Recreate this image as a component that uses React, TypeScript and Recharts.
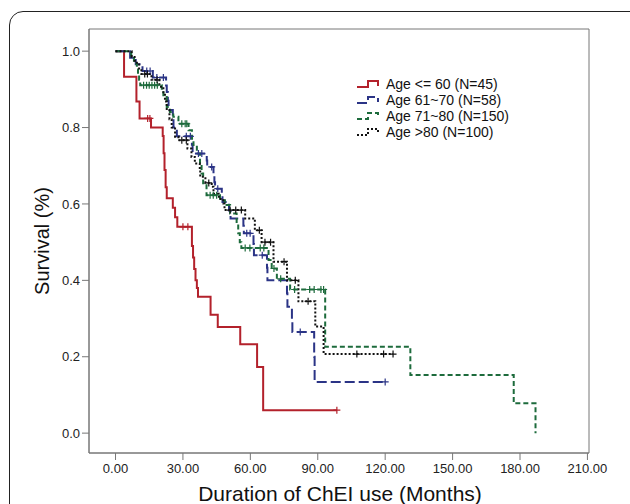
import React from 'react';
import { LineChart, Line, XAxis, YAxis, Legend, ReferenceArea } from 'recharts';

const xTicks = [0, 30, 60, 90, 120, 150, 180, 210];
const yTicks = [0, 0.2, 0.4, 0.6, 0.8, 1.0];
const xDomain = [-11.8, 210.7];
const yDomain = [-0.052, 1.058];

// Kaplan-Meier steps: time (months) of each drop, survival after it, censored times
const redTimes = [3.8, 9.3, 10.7, 15.8, 21.0, 21.4, 21.8, 22.3, 22.8, 25.5, 26.5, 27.5, 34.0, 34.5, 35.0, 35.6, 36.2, 36.7, 42.3, 45.5, 55.5, 63.0, 65.7];
const redSurv = [0.933, 0.868, 0.824, 0.8, 0.778, 0.733, 0.689, 0.644, 0.615, 0.59, 0.565, 0.54, 0.49, 0.46, 0.43, 0.4, 0.38, 0.357, 0.31, 0.278, 0.233, 0.173, 0.06];
const redCensor = [14.3, 15.3, 30.0, 32.2, 98.5];

const blueTimes = [6.5, 9.0, 12.0, 16.6, 22.5, 22.8, 23.3, 23.6, 25.5, 25.8, 27.3, 34.0, 34.3, 40.6, 40.8, 43.6, 44.0, 44.3, 47.3, 47.6, 50.5, 51.2, 56.9, 57.1, 61.4, 61.6, 67.4, 67.6, 76.3, 76.5, 78.5, 78.7, 88.4, 88.6];
const blueSurv = [0.983, 0.966, 0.948, 0.931, 0.91, 0.893, 0.87, 0.846, 0.823, 0.8, 0.777, 0.755, 0.732, 0.714, 0.697, 0.675, 0.657, 0.64, 0.622, 0.605, 0.583, 0.562, 0.543, 0.523, 0.495, 0.466, 0.433, 0.4, 0.366, 0.331, 0.298, 0.265, 0.2, 0.134];
const blueCensor = [13.9, 15.4, 18.4, 21.3, 31.5, 33.3, 36.9, 38.4, 42.8, 45.5, 58.4, 59.9, 65.3, 82.2, 120.0];

const greenTimes = [7.0, 8.2, 9.5, 10.0, 10.5, 11.0, 20.6, 21.3, 22.8, 24.2, 25.7, 28.0, 32.5, 34.0, 34.7, 36.2, 37.6, 38.3, 39.0, 40.5, 46.5, 48.7, 51.0, 53.9, 54.6, 55.3, 56.0, 68.1, 69.5, 71.8, 77.7, 93.3, 131.2, 177.2, 186.9];
const greenSurv = [0.985, 0.968, 0.952, 0.94, 0.925, 0.911, 0.898, 0.88, 0.854, 0.841, 0.828, 0.81, 0.793, 0.771, 0.754, 0.732, 0.702, 0.68, 0.654, 0.623, 0.61, 0.597, 0.575, 0.549, 0.523, 0.5, 0.485, 0.453, 0.431, 0.404, 0.376, 0.226, 0.152, 0.078, 0.0];
const greenCensor = [12.5, 13.8, 15.0, 16.2, 17.4, 18.6, 29.5, 31.0, 31.7, 42.1, 43.5, 45.0, 57.7, 59.8, 64.4, 66.0, 70.5, 73.5, 79.7, 86.4, 88.4, 91.4, 92.6];

const blackTimes = [7.2, 8.5, 9.5, 10.5, 11.5, 16.0, 19.5, 21.3, 22.0, 22.8, 24.0, 25.0, 26.5, 28.0, 32.0, 33.8, 35.3, 37.5, 37.7, 40.0, 42.8, 43.6, 46.0, 48.0, 48.5, 57.7, 62.0, 65.0, 70.3, 76.3, 81.4, 88.9, 92.6];
const blackSurv = [0.985, 0.975, 0.965, 0.95, 0.94, 0.925, 0.907, 0.889, 0.868, 0.846, 0.822, 0.8, 0.776, 0.767, 0.745, 0.723, 0.706, 0.688, 0.671, 0.655, 0.645, 0.627, 0.613, 0.601, 0.584, 0.562, 0.531, 0.5, 0.449, 0.4, 0.345, 0.279, 0.207];
const blackCensor = [13.0, 14.2, 18.5, 29.5, 31.5, 41.5, 51.0, 53.5, 56.0, 64.0, 66.5, 69.0, 75.0, 80.0, 85.7, 107.4, 119.3, 123.5];

const buildCurve = (times: number[], surv: number[], censor: number[]) => {
  const pts = [{ t: 0, s: 1, c: 0 }];
  times.forEach((t, i) => pts.push({ t, s: surv[i], c: 0 }));
  censor.forEach((t) => {
    let s = 1;
    times.forEach((tt, i) => {
      if (tt <= t) s = surv[i];
    });
    pts.push({ t, s, c: 1 });
  });
  return pts.sort((a, b) => a.t - b.t);
};

const groups = [
  { name: 'Age <= 60 (N=45)', color: '#b3212b', dash: undefined, data: buildCurve(redTimes, redSurv, redCensor) },
  { name: 'Age 61~70 (N=58)', color: '#2b3486', dash: '10 4', data: buildCurve(blueTimes, blueSurv, blueCensor) },
  { name: 'Age 71~80 (N=150)', color: '#1d6b3c', dash: '5 3', data: buildCurve(greenTimes, greenSurv, greenCensor) },
  { name: 'Age >80 (N=100)', color: '#111111', dash: '2 2', data: buildCurve(blackTimes, blackSurv, blackCensor) },
];

const font = '"Liberation Sans", Arial, sans-serif';

const censorDot = (color: string) => (props: any) => {
  const { cx, cy, payload, index } = props;
  if (!payload || !payload.c) return <g key={index} />;
  return (
    <path
      key={index}
      d={`M${cx - 3.5},${cy}H${cx + 3.5}M${cx},${cy - 3.5}V${cy + 3.5}`}
      stroke={color}
      strokeWidth={1.2}
      fill="none"
    />
  );
};

const LegendBox = () => (
  <div style={{ fontFamily: font, fontSize: 14, color: '#111' }}>
    {groups.map((g) => (
      <div key={g.name} style={{ display: 'flex', alignItems: 'center', height: 16 }}>
        <svg width={26} height={12} style={{ marginRight: 4 }}>
          <path d="M1,9H12V3H22V8" fill="none" stroke={g.color} strokeWidth={2} strokeDasharray={g.dash} />
        </svg>
        <span style={{ whiteSpace: 'nowrap' }}>{g.name}</span>
      </div>
    ))}
  </div>
);

export default function App() {
  return (
    <div style={{ position: 'fixed', left: 0, top: 0, width: 630, height: 504, overflow: 'hidden', background: '#fff', fontFamily: font }}>
      <div
        style={{
          position: 'absolute',
          left: 9,
          top: 11,
          width: 640,
          height: 600,
          border: '1.6px solid #222',
          borderRadius: 14,
        }}
      />
      <div style={{ position: 'absolute', left: 0, top: 0 }}>
        <LineChart width={630} height={504} margin={{ top: 29, right: 41, left: 0, bottom: 0 }}>
          <XAxis
            dataKey="t"
            type="number"
            domain={xDomain}
            ticks={xTicks}
            interval={0}
            allowDataOverflow
            tickFormatter={(v: number) => v.toFixed(2)}
            tick={{ fontSize: 13, fill: '#222', fontFamily: font }}
            tickSize={7}
            tickMargin={4}
            stroke="#777"
            height={51}
            label={() => (
              <text x={340} y={501} textAnchor="middle" fontSize={21} fill="#111" fontFamily={font}>
                Duration of ChEI use (Months)
              </text>
            )}
          />
          <YAxis
            type="number"
            domain={yDomain}
            ticks={yTicks}
            interval={0}
            allowDataOverflow
            tickFormatter={(v: number) => v.toFixed(1)}
            tick={{ fontSize: 13, fill: '#222', fontFamily: font }}
            tickSize={7}
            tickMargin={2}
            stroke="#777"
            width={89}
            label={() => (
              <text x={49} y={241} textAnchor="middle" fontSize={20} fill="#111" fontFamily={font} transform="rotate(-90, 49, 241)">
                Survival (%)
              </text>
            )}
          />
          <ReferenceArea
            x1={xDomain[0]}
            x2={xDomain[1]}
            y1={yDomain[0]}
            y2={yDomain[1]}
            fill="none"
            fillOpacity={0}
            stroke="#777"
            strokeWidth={1}
            ifOverflow="visible"
          />
          <Legend
            layout="horizontal"
            verticalAlign="middle"
            align="center"
            content={() => <LegendBox />}
            wrapperStyle={{ position: 'absolute', top: 76, left: 356, width: 200, right: 'auto', bottom: 'auto' }}
          />
          {groups.map((g) => (
            <Line
              key={g.name}
              data={g.data}
              dataKey="s"
              name={g.name}
              type="stepAfter"
              stroke={g.color}
              strokeWidth={2}
              strokeDasharray={g.dash}
              dot={censorDot(g.color)}
              activeDot={false}
              isAnimationActive={false}
            />
          ))}
        </LineChart>
      </div>
    </div>
  );
}
